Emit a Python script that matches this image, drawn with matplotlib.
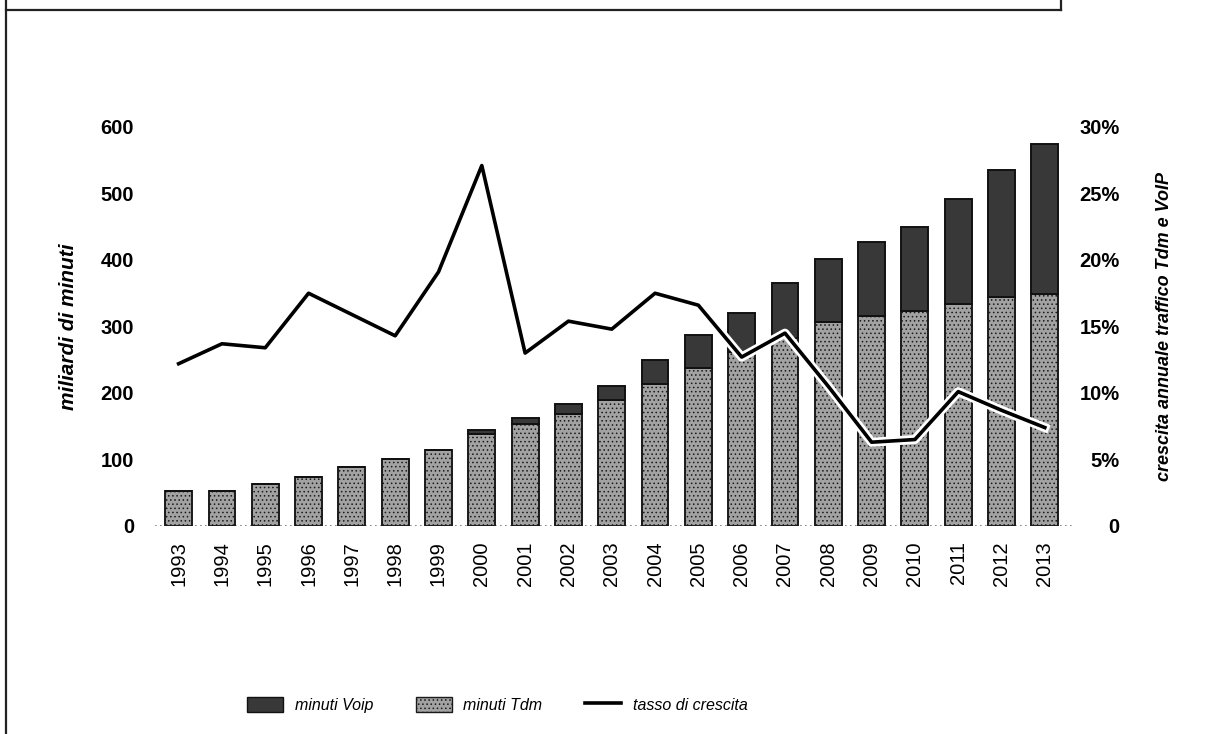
import matplotlib.pyplot as plt
import matplotlib.patheffects as pe
from matplotlib.lines import Line2D
from matplotlib.patches import Patch
import numpy as np

plt.rcParams['font.family'] = ['Liberation Sans', 'DejaVu Sans']

# Traffic in billions of minutes and yearly growth rate
years = [str(y) for y in range(1993, 2014)]
minuti_tdm = [52, 52, 63, 73, 89, 101, 115, 139, 154, 169, 189,
              213, 238, 262, 282, 307, 316, 323, 334, 345, 349]
minuti_voip = [0, 0, 0, 0, 0, 0, 0, 5, 8, 14, 22,
               36, 49, 59, 84, 94, 111, 127, 158, 190, 225]
tasso_crescita = [12.2, 13.7, 13.4, 17.5, 15.9, 14.3, 19.1, 27.1, 13.0, 15.4, 14.8,
                  17.5, 16.6, 12.7, 14.5, 10.5, 6.3, 6.5, 10.1, 8.7, 7.4]

left_ticks = [0, 100, 200, 300, 400, 500, 600]
right_ticks = [0, 5, 10, 15, 20, 25, 30]
right_labels = ["0", "5%", "10%", "15%", "20%", "25%", "30%"]

tdm_color = "#a2a2a2"
voip_color = "#383838"
plt.rcParams['hatch.color'] = "#555555"
plt.rcParams['hatch.linewidth'] = 0.6

fig = plt.figure(figsize=(12.19, 7.34), dpi=100)
ax = fig.add_axes([0.127, 0.2834, 0.755, 0.5436])
x = np.arange(len(years))

ax.bar(x, minuti_tdm, width=0.62, color=tdm_color, edgecolor="#1a1a1a",
       linewidth=1.4, hatch="....", zorder=2)
ax.bar(x, minuti_voip, width=0.62, bottom=minuti_tdm, color=voip_color,
       edgecolor="#111111", linewidth=1.4, zorder=2)

ax.set_xlim(-0.55, 20.7)
ax.set_ylim(0, 600)
ax.set_yticks(left_ticks)
ax.set_yticklabels([str(v) for v in left_ticks], fontsize=14.5, fontweight="bold")
ax.set_xticks(x)
ax.set_xticklabels(years, rotation=90, fontsize=14.5)
ax.tick_params(axis="y", length=0, pad=15)
ax.tick_params(axis="x", length=0, pad=11)
for s in ax.spines.values():
    s.set_visible(False)
ax.axhline(0, color="#777777", linestyle=(0, (1, 2)), linewidth=1.2, zorder=1)
ax.set_ylabel("miliardi di minuti", fontsize=15, style="italic", fontweight="bold",
              labelpad=16)

# Growth rate on the secondary axis
ax2 = ax.twinx()
ax2.plot(x, tasso_crescita, color="black", linewidth=2.6, zorder=3,
         path_effects=[pe.Stroke(linewidth=6.5, foreground="white"), pe.Normal()])
ax2.set_ylim(0, 30)
ax2.set_yticks(right_ticks)
ax2.set_yticklabels(right_labels, fontsize=14.5, fontweight="bold", ha="right")
ax2.tick_params(axis="y", length=0, pad=32)
for s in ax2.spines.values():
    s.set_visible(False)
ax2.set_ylabel("crescita annuale traffico Tdm e VoIP", fontsize=13, style="italic",
               fontweight="bold", labelpad=26)

handles = [Patch(facecolor=voip_color, edgecolor="#111111"),
           Patch(facecolor=tdm_color, edgecolor="#1a1a1a", hatch="...."),
           Line2D([0], [0], color="black", linewidth=2.6)]
fig.legend(handles, ["minuti Voip", "minuti Tdm", "tasso di crescita"],
           loc="center", bbox_to_anchor=(0.408, 0.04), ncol=3, frameon=False,
           prop={"style": "italic", "size": 11.5}, handlelength=2.25, handleheight=1.06,
           columnspacing=2.7, handletextpad=0.7)

# Frame lines of the surrounding box
fig.add_artist(Line2D([6 / 1219, 6 / 1219], [0, 1], color="#222222", linewidth=1.6))
fig.add_artist(Line2D([6 / 1219, 1061 / 1219], [1 - 10 / 734, 1 - 10 / 734],
                      color="#222222", linewidth=1.6))
fig.add_artist(Line2D([1061 / 1219, 1061 / 1219], [1 - 10 / 734, 1], color="#222222",
                      linewidth=1.6))

fig.savefig("out.png", dpi=100)
